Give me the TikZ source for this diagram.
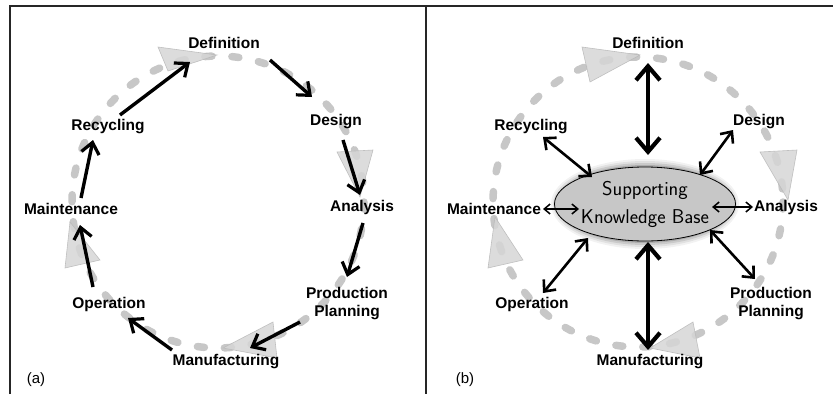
\documentclass[tikz,border=0pt]{standalone}
\usepackage{fontspec}
\setmainfont{Liberation Sans}
\usetikzlibrary{arrows.meta,calc,shapes.geometric}
\tikzset{
  lbl/.style={font=\bfseries\fontsize{15.5}{18}\selectfont, inner sep=1pt, align=center},
  tag/.style={font=\fontsize{15}{18}\selectfont, inner sep=1pt},
  pill/.style={draw=black!22, line width=7.5pt, line cap=round, dash pattern=on 7pt off 20pt},
  tri/.style={fill=black!16, draw=black!28, line width=0.6pt, opacity=0.85},
  flow/.style={line width=3.4pt, -{Straight Barb[length=11pt,width=18pt,line width=3.2pt]}},
  bigdbl/.style={line width=4.8pt, {Straight Barb[length=14pt,width=24pt,line width=4.2pt]}-{Straight Barb[length=14pt,width=24pt,line width=4.2pt]}},
  middbl/.style={line width=2.6pt, {Straight Barb[length=9pt,width=16pt,line width=2.6pt]}-{Straight Barb[length=9pt,width=16pt,line width=2.6pt]}},
  thindbl/.style={line width=1.5pt, {Straight Barb[length=6pt,width=10pt,line width=1.5pt]}-{Straight Barb[length=6pt,width=10pt,line width=1.5pt]}},
  frameline/.style={draw=black!85, line width=1.4pt}
}
\begin{document}
\begin{tikzpicture}[x=1pt,y=-1pt]
\useasboundingbox (0,0) rectangle (833,394);
% frame
\draw[frameline] (10,394) -- (10,6) -- (833,6);
\draw[frameline] (426,6) -- (426,394);

% ================= panel (a) =================
\draw[pill] (218,202) circle[radius=146];
\filldraw[tri] (158,47) -- (217,55) -- (168,71) -- cycle;
\filldraw[tri] (337,152) -- (373,150) -- (360,197) -- cycle;
\filldraw[tri] (273,322) -- (277,358) -- (223,348) -- cycle;
\filldraw[tri] (70,222) -- (65,268) -- (100,260) -- cycle;

\node[lbl] (aDef) at (224,43) {Definition};
\node[lbl] (aDes) at (336,122) {Design};
\node[lbl] (aAna) at (362,207) {Analysis};
\node[lbl] (aPP)  at (347,304) {Production\\Planning};
\node[lbl] (aMan) at (226,362) {Manufacturing};
\node[lbl] (aOpe) at (109,304) {Operation};
\node[lbl] (aMai) at (71,209) {Maintenance};
\node[lbl] (aRec) at (108,127) {Recycling};
\node[tag] (aTag) at (36,380) {(a)};

\draw[flow] ([shift={(12,-12)}]aRec.center) -- ([shift={(-34,19)}]aDef.center);
\draw[flow] ([shift={(46,17)}]aDef.center) -- ([shift={(-24,-25)}]aDes.center);
\draw[flow] ([shift={(7,18)}]aDes.center) -- ([shift={(-2,-12)}]aAna.center);
\draw[flow] ([shift={(1,16)}]aAna.center) -- ([shift={(0,-27)}]aPP.center);
\draw[flow] ([shift={(-47,18)}]aPP.center) -- ([shift={(24,-14)}]aMan.center);
\draw[flow] ([shift={(-54,-12)}]aMan.center) -- ([shift={(19,14)}]aOpe.center);
\draw[flow] ([shift={(-16,-17)}]aOpe.center) -- ([shift={(9,16)}]aMai.center);
\draw[flow] ([shift={(10,-11)}]aMai.center) -- ([shift={(-15,13)}]aRec.center);

% ================= panel (b) =================
\draw[pill] (638,202) circle[radius=145];
\filldraw[tri] (582,47) -- (640,55) -- (590,82) -- cycle;
\filldraw[tri] (760,152) -- (797,150) -- (788,200) -- cycle;
\filldraw[tri] (693,322) -- (700,358) -- (650,348) -- cycle;
\filldraw[tri] (495,217) -- (488,268) -- (523,260) -- cycle;

% glow around ellipse
\foreach \g/\o in {8/0.05,6/0.07,4/0.1,2/0.14}{
  \fill[black, opacity=\o] (645,204) ellipse[x radius={86+\g}, y radius={37+\g}];
}
\node[ellipse, draw=black, line width=0.8pt, fill=black!22, minimum width=172pt, minimum height=74pt, inner sep=0pt,
      font=\sffamily\fontsize{20}{28}\selectfont, align=center] (kb) at (645,204) {Supporting\\Knowledge Base};

\node[lbl] (bDef) at (648,43) {Definition};
\node[lbl] (bDes) at (759,122) {Design};
\node[lbl] (bAna) at (786,207) {Analysis};
\node[lbl] (bPP)  at (771,304) {Production\\Planning};
\node[lbl] (bMan) at (650,362) {Manufacturing};
\node[lbl] (bOpe) at (532,304) {Operation};
\node[lbl] (bMai) at (494,209) {Maintenance};
\node[lbl] (bRec) at (531,127) {Recycling};
\node[tag] (bTag) at (465,380) {(b)};

\draw[bigdbl] ([shift={(0,20)}]bDef.center) -- ([shift={(3,-49)}]kb.center);
\draw[bigdbl] ([shift={(3,38)}]kb.center) -- ([shift={(-2,-12)}]bMan.center);
\draw[middbl] ([shift={(12,10)}]bRec.center) -- ([shift={(-53,-27)}]kb.center);
\draw[middbl] ([shift={(-26,8)}]bDes.center) -- ([shift={(55,-29)}]kb.center);
\draw[thindbl] ([shift={(49,0)}]bMai.center) -- ([shift={(-66,5)}]kb.center);
\draw[thindbl] ([shift={(67,3)}]kb.center) -- ([shift={(-33,0)}]bAna.center);
\draw[middbl] ([shift={(11,-11)}]bOpe.center) -- ([shift={(-57,34)}]kb.center);
\draw[middbl] ([shift={(65,26)}]kb.center) -- ([shift={(-16,-25)}]bPP.center);
\end{tikzpicture}
\end{document}
